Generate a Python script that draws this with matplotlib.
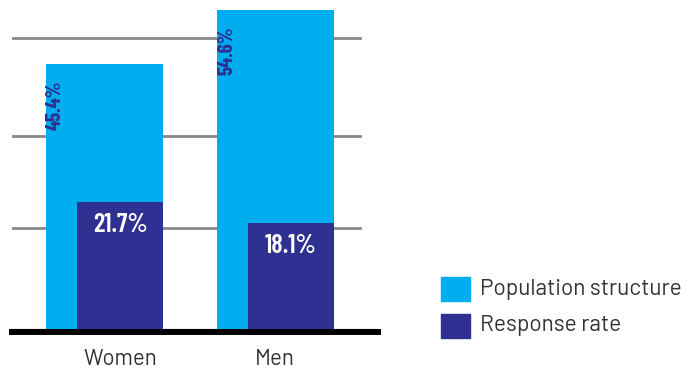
import matplotlib
matplotlib.use('Agg')
import matplotlib.pyplot as plt
from matplotlib.patches import Rectangle
import numpy as np

categories = ['Women', 'Men']
population = [45.4, 54.6]
response = [21.7, 18.1]
series_names = ['Population structure', 'Response rate']

light = '#00AEEF'
dark = '#2E3192'
cond = ['Barlow Condensed', 'DejaVu Sans']
plain = ['Barlow', 'DejaVu Sans']

W, H = 689, 371
fig = plt.figure(figsize=(W / 100, H / 100), dpi=100)
ax = fig.add_axes([12 / W, 42 / H, 366 / W, 329 / H])

x = np.arange(len(categories))
wl, wd = 0.684, 0.503
off = (wl - wd) / 2

# grid lines behind bars
for g in [17.3, 33.0, 49.8]:
    ax.axhline(g, xmin=0, xmax=0.951, color='#8a8a8a', lw=2, zorder=0)
ax.axhline(0, color='#9a9a9a', lw=1, zorder=0)

ax.bar(x, population, width=wl, color=light, zorder=2)
ax.bar(x + off, response, width=wd, color=dark, zorder=3)

for xi, v in zip(x, population):
    ax.annotate('%.1f%%' % v, xy=(xi - wl / 2, v), xytext=(0, -12),
                textcoords='offset points', rotation=90, ha='left', va='top',
                color=dark, fontsize=15, fontweight='bold', family=cond, zorder=4)
for xi, v in zip(x, response):
    ax.annotate('%.1f%%' % v, xy=(xi + off, v), xytext=(0, -16.5),
                textcoords='offset points', ha='center', va='center',
                color='white', fontsize=19, fontweight='semibold', family=cond, zorder=4)

for s in ['top', 'right', 'left']:
    ax.spines[s].set_visible(False)
ax.spines['bottom'].set_linewidth(4.3)
ax.spines['bottom'].set_color('black')
ax.spines['bottom'].set_position(('outward', 2.2))
ax.patch.set_visible(False)

ax.set_xlim(-0.541, 1.599)
ax.set_ylim(0, 56.3)
ax.set_yticks([])
ax.set_xticks([0.09, 0.997])
ax.set_xticklabels(categories, fontsize=16, color='#333333', family=plain)
ax.tick_params(axis='x', length=0, pad=12)

# legend
for i, (name, c) in enumerate(zip(series_names, [light, dark])):
    top = 277 + i * 37
    fig.patches.append(Rectangle((441 / W, 1 - (top + 24) / H), 29 / W, 24 / H,
                                 transform=fig.transFigure, color=c))
    fig.text(480 / W, 1 - (top + 12) / H, name, fontsize=16.3, color='#333333',
             va='center', ha='left', family=plain)

fig.savefig('out.png', dpi=100)
